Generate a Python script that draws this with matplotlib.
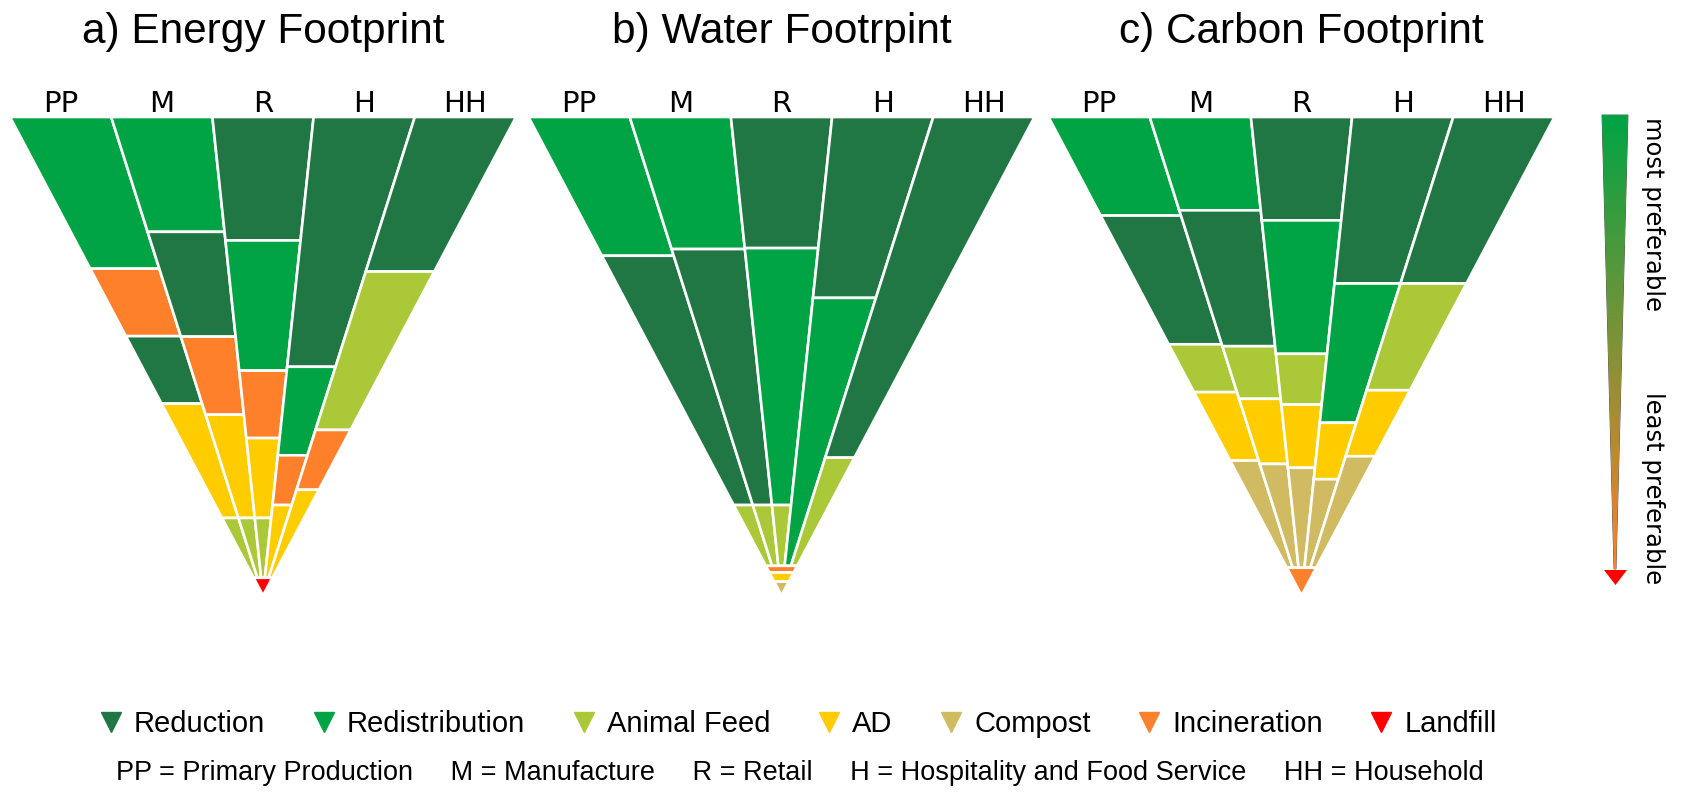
"""
Food waste hierarchy triangles for energy, water and carbon footprints
"""

import numpy as np
import matplotlib.pyplot as plt
from matplotlib.patches import Polygon
from matplotlib.lines import Line2D
from matplotlib.colors import LinearSegmentedColormap

sectors = ['PP', 'M', 'R', 'H', 'HH']
sector_names = ['Primary Production', 'Manufacture', 'Retail',
                'Hospitality and Food Service', 'Household']
options = ['Reduction', 'Redistribution', 'Animal Feed', 'AD',
           'Compost', 'Incineration', 'Landfill']
option_colors = ['#217743', '#00A444', '#AAC837', '#FFCC00',
                 '#D0BB62', '#FE802A', '#FF0000']
titles = ['a) Energy Footprint', 'b) Water Footrpint', 'c) Carbon Footprint']

# For every sector: options from top to bottom, and the depth where each one ends
# (0 = top edge of the triangle, 1 = tip)
energy_opts = [
    ['Redistribution', 'Incineration', 'Reduction', 'AD', 'Animal Feed'],
    ['Redistribution', 'Reduction', 'Incineration', 'AD', 'Animal Feed'],
    ['Reduction', 'Redistribution', 'Incineration', 'AD', 'Animal Feed'],
    ['Reduction', 'Redistribution', 'Incineration', 'AD'],
    ['Reduction', 'Animal Feed', 'Incineration', 'AD'],
]
energy_ends = [
    [0.317, 0.458, 0.599, 0.838, 0.963],
    [0.240, 0.459, 0.622, 0.838, 0.963],
    [0.258, 0.530, 0.671, 0.838, 0.963],
    [0.522, 0.707, 0.811, 0.963],
    [0.323, 0.654, 0.779, 0.963],
]
energy_tip_opts = ['Landfill']
energy_tip_ends = [1.0]

water_opts = [
    ['Redistribution', 'Reduction', 'Animal Feed'],
    ['Redistribution', 'Reduction', 'Animal Feed'],
    ['Reduction', 'Redistribution', 'Animal Feed'],
    ['Reduction', 'Redistribution'],
    ['Reduction', 'Animal Feed'],
]
water_ends = [
    [0.290, 0.811, 0.938],
    [0.276, 0.811, 0.938],
    [0.274, 0.811, 0.938],
    [0.378, 0.938],
    [0.712, 0.938],
]
water_tip_opts = ['Incineration', 'AD', 'Compost']
water_tip_ends = [0.952, 0.971, 1.0]

carbon_opts = [
    ['Redistribution', 'Reduction', 'Animal Feed', 'AD', 'Compost'],
    ['Redistribution', 'Reduction', 'Animal Feed', 'AD', 'Compost'],
    ['Reduction', 'Redistribution', 'Animal Feed', 'AD', 'Compost'],
    ['Reduction', 'Redistribution', 'AD', 'Compost'],
    ['Reduction', 'Animal Feed', 'AD', 'Compost'],
]
carbon_ends = [
    [0.206, 0.475, 0.575, 0.718, 0.942],
    [0.195, 0.479, 0.589, 0.725, 0.942],
    [0.216, 0.495, 0.601, 0.733, 0.942],
    [0.348, 0.639, 0.757, 0.942],
    [0.348, 0.571, 0.709, 0.942],
]
carbon_tip_opts = ['Incineration']
carbon_tip_ends = [1.0]

# layout (pixels of the 1683 x 792 canvas)
TRI_LEFT = [10, 528.5, 1048.5]
TRI_W = 506
TOP = 117
APEX = 595.5
color_of = dict(zip(options, option_colors))


def draw_triangle(ax, x0, opts, ends, tip_opts, tip_ends, title):
    xs_top = x0 + np.arange(6) * TRI_W / 5
    xa = x0 + TRI_W / 2

    def xk(k, d):
        return xs_top[k] + d * (xa - xs_top[k])

    def yd(d):
        return TOP + d * (APEX - TOP)

    style = dict(edgecolor='white', linewidth=1.9, joinstyle='miter')
    for j in range(5):
        d0 = 0.0
        for opt, d1 in zip(opts[j], ends[j]):
            pts = [(xk(j, d0), yd(d0)), (xk(j + 1, d0), yd(d0)),
                   (xk(j + 1, d1), yd(d1)), (xk(j, d1), yd(d1))]
            ax.add_patch(Polygon(pts, facecolor=color_of[opt], **style))
            d0 = d1
        ax.text((xs_top[j] + xs_top[j + 1]) / 2, TOP - 5, sectors[j],
                ha='center', va='baseline', fontsize=21, family='DejaVu Sans')

    # shared tip of the triangle
    d0 = max(e[-1] for e in ends)
    for opt, d1 in zip(tip_opts, tip_ends):
        pts = [(xk(0, d0), yd(d0)), (xk(5, d0), yd(d0)),
               (xk(5, d1), yd(d1)), (xk(0, d1), yd(d1))]
        ax.add_patch(Polygon(pts, facecolor=color_of[opt], **style))
        d0 = d1

    ax.text(xa, 43, title, ha='center', va='baseline', fontsize=30.5,
            family='Liberation Sans')


fig = plt.figure(figsize=(16.83, 7.92), dpi=100)
ax = fig.add_axes([0, 0, 1, 1])
ax.set_xlim(0, 1683)
ax.set_ylim(792, 0)
ax.axis('off')

all_opts = [energy_opts, water_opts, carbon_opts]
all_ends = [energy_ends, water_ends, carbon_ends]
all_tip_opts = [energy_tip_opts, water_tip_opts, carbon_tip_opts]
all_tip_ends = [energy_tip_ends, water_tip_ends, carbon_tip_ends]
for i in range(3):
    draw_triangle(ax, TRI_LEFT[i], all_opts[i], all_ends[i],
                  all_tip_opts[i], all_tip_ends[i], titles[i])

# preference arrow on the right
wedge = Polygon([(1602, 115), (1628, 115), (1616, 569), (1614, 569)],
                closed=True, facecolor='none', edgecolor='#444444', linewidth=0.6)
ax.add_patch(wedge)
cmap = LinearSegmentedColormap.from_list('pref', ['#00A444', '#FE802A'])
grad = np.linspace(0, 1, 256).reshape(-1, 1)
im = ax.imshow(grad, cmap=cmap, aspect='auto', extent=(1600, 1630, 569, 115),
               origin='upper', zorder=1)
im.set_clip_path(wedge)
ax.add_patch(Polygon([(1604, 570), (1627, 570), (1615.5, 585)],
                     facecolor='#FF0000', edgecolor='none'))
ax.text(1653, 117, 'most preferable', rotation=-90, ha='center', va='top',
        fontsize=17.5, family='DejaVu Sans')
ax.text(1653, 584, 'least preferable', rotation=-90, ha='center', va='bottom',
        fontsize=17.5, family='DejaVu Sans')

# legend
handles = [Line2D([], [], marker='v', linestyle='none', markersize=15,
                  markerfacecolor=c, markeredgecolor=c) for c in option_colors]
fig.legend(handles, options, loc='center', bbox_to_anchor=(798 / 1683, 1 - 724 / 792),
           ncol=7, frameon=False, handlelength=0.8, handletextpad=0.4,
           columnspacing=1.6, prop={'family': 'Liberation Sans', 'size': 21})

abbrev = '     '.join(f'{s} = {n}' for s, n in zip(sectors, sector_names))
ax.text(800, 773, abbrev, ha='center', va='center', fontsize=19.5,
        family='Liberation Sans')

fig.savefig('out.png', dpi=100)
